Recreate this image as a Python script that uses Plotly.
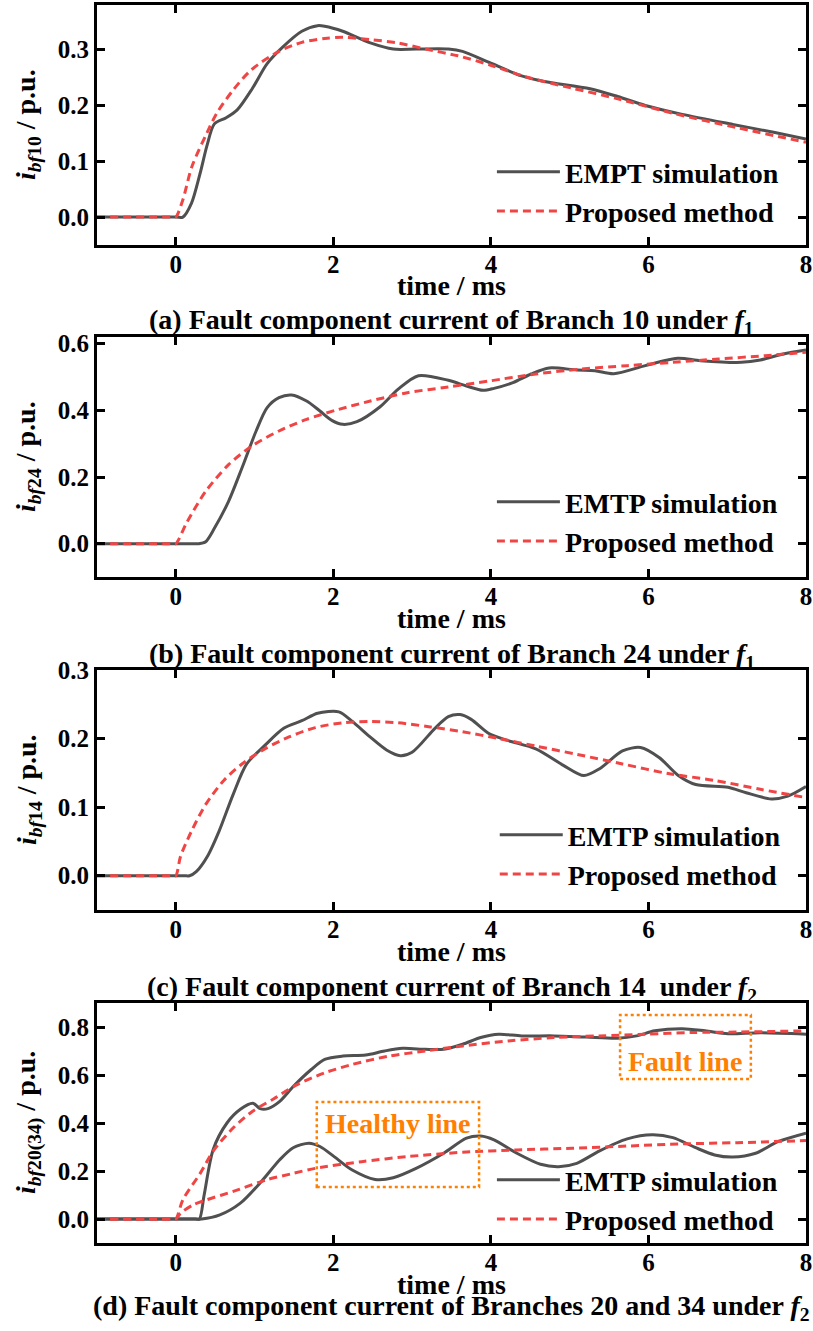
import plotly.graph_objects as go
from plotly.subplots import make_subplots

FONT = "Times New Roman, Liberation Serif, Times, serif"
GRAY = "#505050"
RED = "#f04545"
ORANGE = "#ff8000"
DASH = "8px,5px"

# ---- (a) Branch 10 under f1 ----
a_emtp_t = [-1, 0.0, 0.09, 0.2, 0.31, 0.396, 0.49, 0.64, 0.78, 0.97, 1.16, 1.36, 1.6, 1.8, 1.89, 2.12,
            2.47, 2.76, 3.05, 3.46, 3.64, 3.98, 4.39, 4.68, 5.26, 5.61, 5.96, 6.43, 7.07, 7.59, 8.0]
a_emtp_v = [0, 0, 0, 0.025, 0.079, 0.128, 0.167, 0.178, 0.192, 0.23, 0.275, 0.305, 0.333, 0.343, 0.342, 0.333,
            0.312, 0.301, 0.301, 0.301, 0.297, 0.277, 0.253, 0.243, 0.23, 0.216, 0.2, 0.184, 0.166, 0.152, 0.14]
a_prop_t = [-1, -0.05, 0, 0.09, 0.206, 0.396, 0.52, 0.73, 0.96, 1.31, 1.6, 1.89, 2.12, 2.47, 2.82, 3.17,
            3.58, 3.98, 4.45, 5.03, 5.61, 6.31, 7.13, 8.0]
a_prop_v = [0, 0, 0, 0.031, 0.091, 0.151, 0.186, 0.228, 0.264, 0.297, 0.313, 0.32, 0.322, 0.318, 0.312, 0.301,
            0.289, 0.273, 0.251, 0.231, 0.212, 0.186, 0.16, 0.134]

# ---- (b) Branch 24 under f1 ----
b_emtp_t = [-1, 0.2, 0.29, 0.38, 0.49, 0.67, 0.84, 1.02, 1.16, 1.31, 1.47, 1.66, 1.83, 1.98, 2.12, 2.3, 2.59,
            2.82, 3.08, 3.46, 3.69, 3.9, 4.04, 4.28, 4.51, 4.74, 5.09, 5.32, 5.56, 5.96, 6.37, 6.66, 7.18,
            7.42, 7.71, 8.0]
b_emtp_v = [0, 0, 0, 0.006, 0.046, 0.127, 0.227, 0.338, 0.408, 0.438, 0.446, 0.428, 0.398, 0.37, 0.358, 0.366,
            0.41, 0.463, 0.504, 0.49, 0.473, 0.46, 0.466, 0.483, 0.509, 0.527, 0.521, 0.519, 0.51, 0.534,
            0.556, 0.549, 0.544, 0.551, 0.569, 0.581]
b_prop_t = [-1, -0.05, 0, 0.145, 0.38, 0.67, 0.96, 1.31, 1.66, 2.07, 2.47, 2.94, 3.46, 3.98, 4.57, 5.15, 5.73,
            6.31, 6.89, 7.48, 8.0]
b_prop_v = [0, 0, 0, 0.066, 0.157, 0.237, 0.292, 0.338, 0.373, 0.403, 0.428, 0.453, 0.47, 0.488, 0.509, 0.524,
            0.534, 0.544, 0.554, 0.564, 0.574]

# ---- (c) Branch 14 under f2 ----
c_emtp_t = [-1, 0.1, 0.175, 0.26, 0.41, 0.55, 0.73, 0.9, 1.13, 1.37, 1.6, 1.8, 2.07, 2.24, 2.47, 2.68, 2.85,
            3.0, 3.29, 3.46, 3.61, 3.75, 3.98, 4.22, 4.57, 4.92, 5.18, 5.38, 5.67, 5.9, 6.14, 6.37, 6.6,
            7.01, 7.24, 7.56, 7.77, 8.0]
c_emtp_v = [0, 0, 0, 0.006, 0.03, 0.065, 0.119, 0.163, 0.19, 0.215, 0.226, 0.237, 0.239, 0.225, 0.202, 0.183,
            0.175, 0.18, 0.215, 0.232, 0.235, 0.228, 0.207, 0.197, 0.185, 0.161, 0.146, 0.156, 0.182,
            0.187, 0.172, 0.147, 0.133, 0.129, 0.121, 0.112, 0.116, 0.13]
c_prop_t = [-1, -0.05, 0, 0.06, 0.2, 0.38, 0.61, 0.84, 1.13, 1.43, 1.77, 2.12, 2.47, 2.82, 3.23, 3.64, 4.1,
            4.57, 5.09, 5.67, 6.25, 6.84, 7.42, 8.0]
c_prop_v = [0, 0, 0, 0.028, 0.065, 0.104, 0.139, 0.163, 0.185, 0.202, 0.216, 0.223, 0.225, 0.223, 0.217,
            0.21, 0.2, 0.189, 0.177, 0.163, 0.149, 0.139, 0.126, 0.114]

# ---- (d) Branches 20 (fault line) and 34 (healthy line) under f2 ----
d_fault_emtp_t = [-1, 0.25, 0.3, 0.36, 0.475, 0.65, 0.82, 0.98, 1.07, 1.17, 1.32, 1.5, 1.72, 1.89, 2.12, 2.41,
                  2.65, 2.88, 3.17, 3.4, 3.64, 3.87, 4.1, 4.39, 4.8, 5.21, 5.61, 5.85, 6.08, 6.43, 6.72,
                  7.01, 7.42, 8.0]
d_fault_emtp_v = [0, 0, 0, 0.1, 0.29, 0.4, 0.457, 0.482, 0.46, 0.46, 0.49, 0.555, 0.623, 0.665, 0.679, 0.683,
                  0.7, 0.711, 0.707, 0.707, 0.728, 0.756, 0.77, 0.763, 0.763, 0.758, 0.753, 0.763, 0.784,
                  0.793, 0.784, 0.772, 0.776, 0.77]
d_fault_prop_t = [-1, -0.05, 0, 0.09, 0.31, 0.475, 0.73, 0.98, 1.24, 1.54, 1.89, 2.24, 2.71, 3.17, 3.64, 4.22,
                  4.8, 5.38, 5.96, 6.55, 7.13, 8.0]
d_fault_prop_v = [0, 0, 0, 0.08, 0.19, 0.283, 0.38, 0.45, 0.5, 0.56, 0.609, 0.644, 0.679, 0.7, 0.721, 0.742,
                  0.756, 0.763, 0.77, 0.777, 0.779, 0.784]
d_healthy_emtp_t = [-1, 0.2, 0.33, 0.56, 0.82, 1.07, 1.32, 1.49, 1.69, 1.83, 2.01, 2.24, 2.53, 2.76, 3.05,
                    3.4, 3.69, 3.87, 4.04, 4.33, 4.63, 4.86, 5.09, 5.38, 5.73, 6.05, 6.31, 6.6, 6.84,
                    7.07, 7.36, 7.65, 8.0]
d_healthy_emtp_v = [0, 0, 0, 0.017, 0.066, 0.15, 0.247, 0.297, 0.316, 0.302, 0.26, 0.204, 0.165, 0.172,
                    0.211, 0.274, 0.337, 0.346, 0.33, 0.274, 0.228, 0.218, 0.232, 0.284, 0.334, 0.351,
                    0.339, 0.297, 0.267, 0.258, 0.274, 0.323, 0.358]
d_healthy_prop_t = [-1, -0.05, 0, 0.06, 0.22, 0.39, 0.73, 1.16, 1.49, 1.77, 2.36, 2.94, 3.64, 4.33, 5.03, 5.73,
                    6.43, 7.13, 8.0]
d_healthy_prop_v = [0, 0, 0, 0.024, 0.059, 0.08, 0.115, 0.164, 0.19, 0.211, 0.239, 0.26, 0.278, 0.288,
                    0.295, 0.304, 0.313, 0.318, 0.327]

x_ticks = [0, 2, 4, 6, 8]
x_range = [-1, 8]

panels = [
    dict(emtp=[(a_emtp_t, a_emtp_v)], prop=[(a_prop_t, a_prop_v)],
         emtp_name="EMPT simulation", yrange=[-0.05, 0.38], ydtick=0.1,
         ylabel="<i>i</i><sub><i>bf</i>10</sub> / p.u.",
         caption="(a) Fault component current of Branch 10 under <i>f</i><sub>1</sub>",
         domain=[0.80614, 1.0], legend_y=0.8494, legend_x=0.557, cap_shift=-77),
    dict(emtp=[(b_emtp_t, b_emtp_v)], prop=[(b_prop_t, b_prop_v)],
         emtp_name="EMTP simulation", yrange=[-0.1, 0.62], ydtick=0.2,
         ylabel="<i>i</i><sub><i>bf</i>24</sub> / p.u.",
         caption="(b) Fault component current of Branch 24 under <i>f</i><sub>1</sub>",
         domain=[0.53796, 0.73183], legend_y=0.5828, legend_x=0.557, cap_shift=-78),
    dict(emtp=[(c_emtp_t, c_emtp_v)], prop=[(c_prop_t, c_prop_v)],
         emtp_name="EMTP simulation", yrange=[-0.05, 0.3], ydtick=0.1,
         ylabel="<i>i</i><sub><i>bf</i>14</sub> / p.u.",
         caption="(c) Fault component current of Branch 14  under <i>f</i><sub>2</sub>",
         domain=[0.26898, 0.46284], legend_y=0.3138, legend_x=0.561, cap_shift=-78),
    dict(emtp=[(d_fault_emtp_t, d_fault_emtp_v), (d_healthy_emtp_t, d_healthy_emtp_v)],
         prop=[(d_fault_prop_t, d_fault_prop_v), (d_healthy_prop_t, d_healthy_prop_v)],
         emtp_name="EMTP simulation", yrange=[-0.1, 0.9], ydtick=0.2,
         ylabel="<i>i</i><sub><i>bf</i>20(34)</sub> / p.u.",
         caption="(d) Fault component current of Branches 20 and 34 under <i>f</i><sub>2</sub>",
         domain=[0.0, 0.19386], legend_y=0.03514, legend_x=0.557, cap_shift=-64),
]

fig = make_subplots(rows=4, cols=1)

annotations = []
for i, p in enumerate(panels, start=1):
    leg = "legend" if i == 1 else f"legend{i}"
    for k, (t, v) in enumerate(p["emtp"]):
        fig.add_trace(go.Scatter(x=t, y=v, mode="lines", name=p["emtp_name"],
                                 line=dict(color=GRAY, width=3, shape="spline", smoothing=0.8),
                                 legend=leg, showlegend=(k == 0)), row=i, col=1)
    for k, (t, v) in enumerate(p["prop"]):
        fig.add_trace(go.Scatter(x=t, y=v, mode="lines", name="Proposed method",
                                 line=dict(color=RED, width=3, dash=DASH, shape="spline", smoothing=0.8),
                                 legend=leg, showlegend=(k == 0)), row=i, col=1)

    sfx = "" if i == 1 else str(i)
    fig.update_xaxes(range=x_range, tickvals=x_ticks, ticklabelstandoff=-5, row=i, col=1)
    fig.update_yaxes(range=p["yrange"], dtick=p["ydtick"], tick0=0, tickformat=".1f",
                     domain=p["domain"], row=i, col=1)

    fig.update_layout({leg: dict(x=p["legend_x"], y=p["legend_y"], xanchor="left", yanchor="middle",
                                 bgcolor="rgba(0,0,0,0)", itemwidth=63,
                                 font=dict(family=FONT, size=28, color="black", weight="bold"))})

    annotations.append(dict(text=p["ylabel"], xref=f"x{sfx} domain", yref=f"y{sfx} domain",
                            x=0, y=0.5, xanchor="center", yanchor="middle", xshift=-69,
                            textangle=-90, showarrow=False,
                            font=dict(family=FONT, size=28, color="black", weight="bold")))
    annotations.append(dict(text="time / ms", xref=f"x{sfx} domain", yref=f"y{sfx} domain",
                            x=0.5, y=0, xanchor="center", yanchor="middle", yshift=-41,
                            showarrow=False,
                            font=dict(family=FONT, size=28, color="black", weight="bold")))
    annotations.append(dict(text=p["caption"], xref=f"x{sfx} domain", yref=f"y{sfx} domain",
                            x=0.5, y=0, xanchor="center", yanchor="middle", yshift=p["cap_shift"],
                            showarrow=False,
                            font=dict(family=FONT, size=28, color="black", weight="bold")))

# Highlight boxes in panel (d)
healthy_box = dict(x0=1.79, x1=3.85, y0=0.133, y1=0.4875)
fault_box = dict(x0=5.64, x1=7.30, y0=0.583, y1=0.85)
for box, label, cy in [(healthy_box, "Healthy line", 0.4), (fault_box, "Fault line", 0.657)]:
    fig.add_shape(type="rect", xref="x4", yref="y4", **box,
                  line=dict(color=ORANGE, width=2.5, dash="dot"))
    annotations.append(dict(text=label, xref="x4", yref="y4",
                            x=(box["x0"] + box["x1"]) / 2, y=cy, showarrow=False,
                            xanchor="center", yanchor="middle",
                            font=dict(family=FONT, size=28, color=ORANGE, weight="bold")))

axis_style = dict(showline=True, linewidth=3, linecolor="black", mirror="ticks",
                  ticks="inside", ticklen=8, tickwidth=2.5, tickcolor="black",
                  showgrid=False, zeroline=False, automargin=False,
                  tickfont=dict(family=FONT, size=25, color="black", weight="bold"))
fig.update_xaxes(**axis_style)
fig.update_yaxes(**axis_style)

fig.update_layout(
    width=813, height=1331,
    margin=dict(l=97, r=7, t=5, b=88, autoexpand=False),
    paper_bgcolor="white", plot_bgcolor="white",
    font=dict(family=FONT, color="black"),
    annotations=annotations,
)

fig.write_html("out.html")
